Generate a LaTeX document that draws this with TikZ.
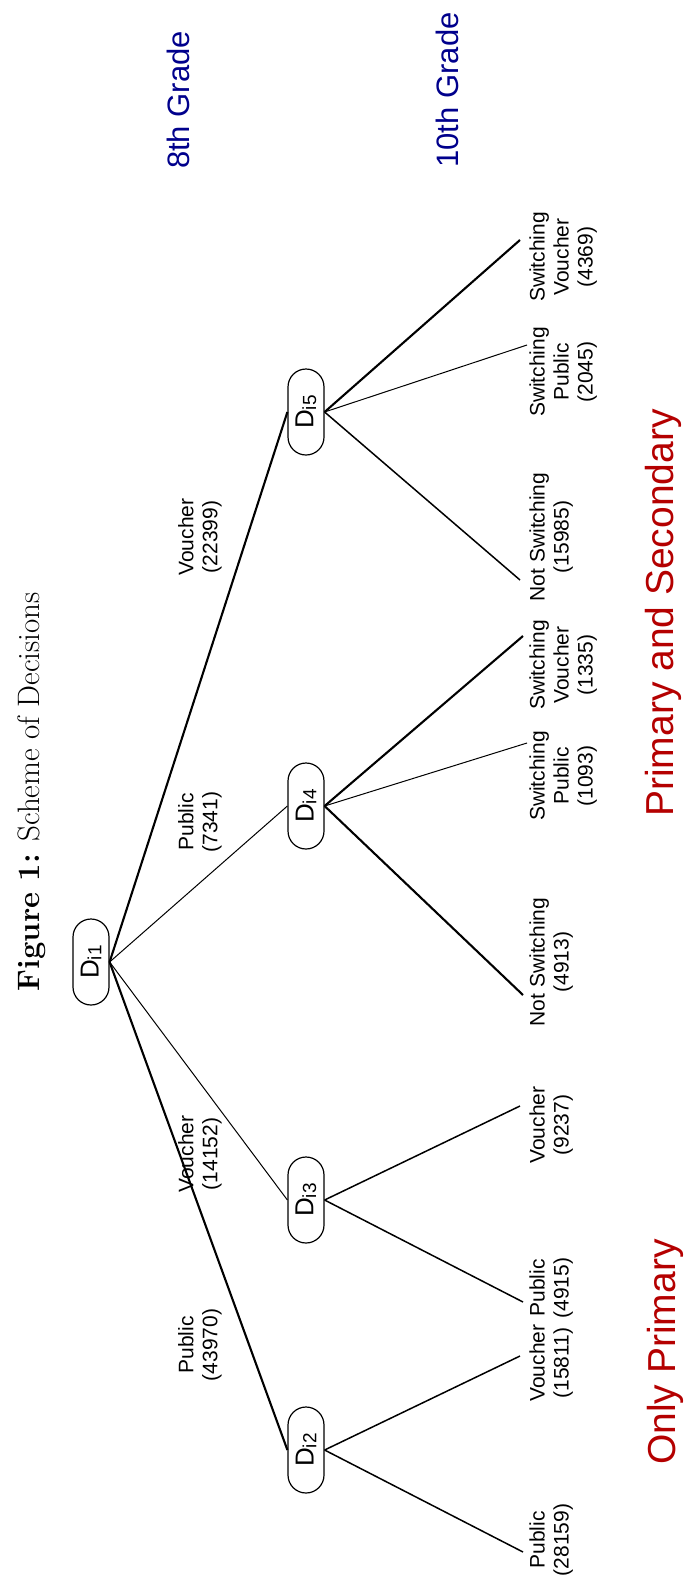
\documentclass[tikz,border=0pt]{standalone}
\usepackage{fontspec}
\setsansfont{Liberation Sans}
\definecolor{gradeblue}{RGB}{0,0,140}
\definecolor{levelred}{RGB}{180,0,0}
\tikzstyle{decision} = [rectangle, rounded corners=9pt, minimum width=43pt, minimum height=18pt, inner sep=1pt, line width=0.6pt, text centered, draw=black, rotate=90, font=\sffamily\fontsize{13}{15}\selectfont]
\tikzstyle{branch} = [align=center, rotate=90, inner sep=1pt, font=\sffamily\fontsize{10.5}{12}\selectfont]
\tikzstyle{leaf} = [branch, anchor=north]
\tikzstyle{grade} = [rotate=90, text=gradeblue, font=\sffamily\fontsize{15.5}{18}\selectfont]
\tikzstyle{level} = [rotate=90, text=levelred, font=\sffamily\fontsize{19.5}{22}\selectfont]
\tikzstyle{thinline} = [line width=0.5pt]
\tikzstyle{midline} = [line width=0.75pt]
\tikzstyle{thickline} = [line width=1.05pt]
\newcommand{\dnode}[1]{D\raisebox{-0.2ex}{\fontsize{9.5}{9.5}\selectfont #1}}

\begin{document}
\begin{tikzpicture}[x=0.5pt,y=-0.5pt]
\useasboundingbox (0,0) rectangle (689,1579);

\node (title) [rotate=90, font=\fontsize{15.5}{18}\selectfont] at (32,792) {\textbf{Figure 1:} Scheme of Decisions};

\node (grade8) [grade] at (178,100) {8th Grade};
\node (grade10) [grade] at (447,90) {10th Grade};
\node (both) [level] at (663,613) {Primary and Secondary};
\node (primary) [level] at (665,1352) {Only Primary};

\node (d1) [decision] at (91,962) {\dnode{i1}};
\node (d2) [decision] at (306,1450) {\dnode{i2}};
\node (d3) [decision] at (306,1200) {\dnode{i3}};
\node (d4) [decision] at (306,806) {\dnode{i4}};
\node (d5) [decision] at (306,412) {\dnode{i5}};

\node (b12) [branch] at (200,1345) {Public\\(43970)};
\node (b13) [branch] at (200,1154) {Voucher\\(14152)};
\node (b14) [branch] at (200,822) {Public\\(7341)};
\node (b15) [branch] at (200,537) {Voucher\\(22399)};

\node (l21) [leaf] at (527,1540) {Public\\(28159)};
\node (l22) [leaf] at (527,1363) {Voucher\\(15811)};
\node (l31) [leaf] at (527,1288) {Public\\(4915)};
\node (l32) [leaf] at (527,1125) {Voucher\\(9237)};
\node (l41) [leaf] at (527,962) {Not Switching\\(4913)};
\node (l42) [leaf] at (527,776) {Switching\\Public\\(1093)};
\node (l43) [leaf] at (527,665) {Switching\\Voucher\\(1335)};
\node (l51) [leaf] at (527,537) {Not Switching\\(15985)};
\node (l52) [leaf] at (527,372) {Switching\\Public\\(2045)};
\node (l53) [leaf] at (527,257) {Switching\\Voucher\\(4369)};

%% los extremos de las ramas finales
\coordinate (e21) at (523,1552);
\coordinate (e22) at (520,1356);
\coordinate (e31) at (523,1302);
\coordinate (e32) at (520,1106);
\coordinate (e41) at (523,995);
\coordinate (e42) at (527,743);
\coordinate (e43) at (523,636);
\coordinate (e51) at (520,580);
\coordinate (e52) at (527,345);
\coordinate (e53) at (520,240);

\draw [thickline] (d1.south) -- (d2.north);
\draw [thinline] (d1.south) -- (d3.north);
\draw [thinline] (d1.south) -- (d4.north);
\draw [thickline] (d1.south) -- (d5.north);

\draw [midline] (d2.south) -- (e21);
\draw [midline] (d2.south) -- (e22);
\draw [midline] (d3.south) -- (e31);
\draw [midline] (d3.south) -- (e32);
\draw [thickline] (d4.south) -- (e41);
\draw [thinline] (d4.south) -- (e42);
\draw [thickline] (d4.south) -- (e43);
\draw [midline] (d5.south) -- (e51);
\draw [thinline] (d5.south) -- (e52);
\draw [thickline] (d5.south) -- (e53);

\end{tikzpicture}
\end{document}
